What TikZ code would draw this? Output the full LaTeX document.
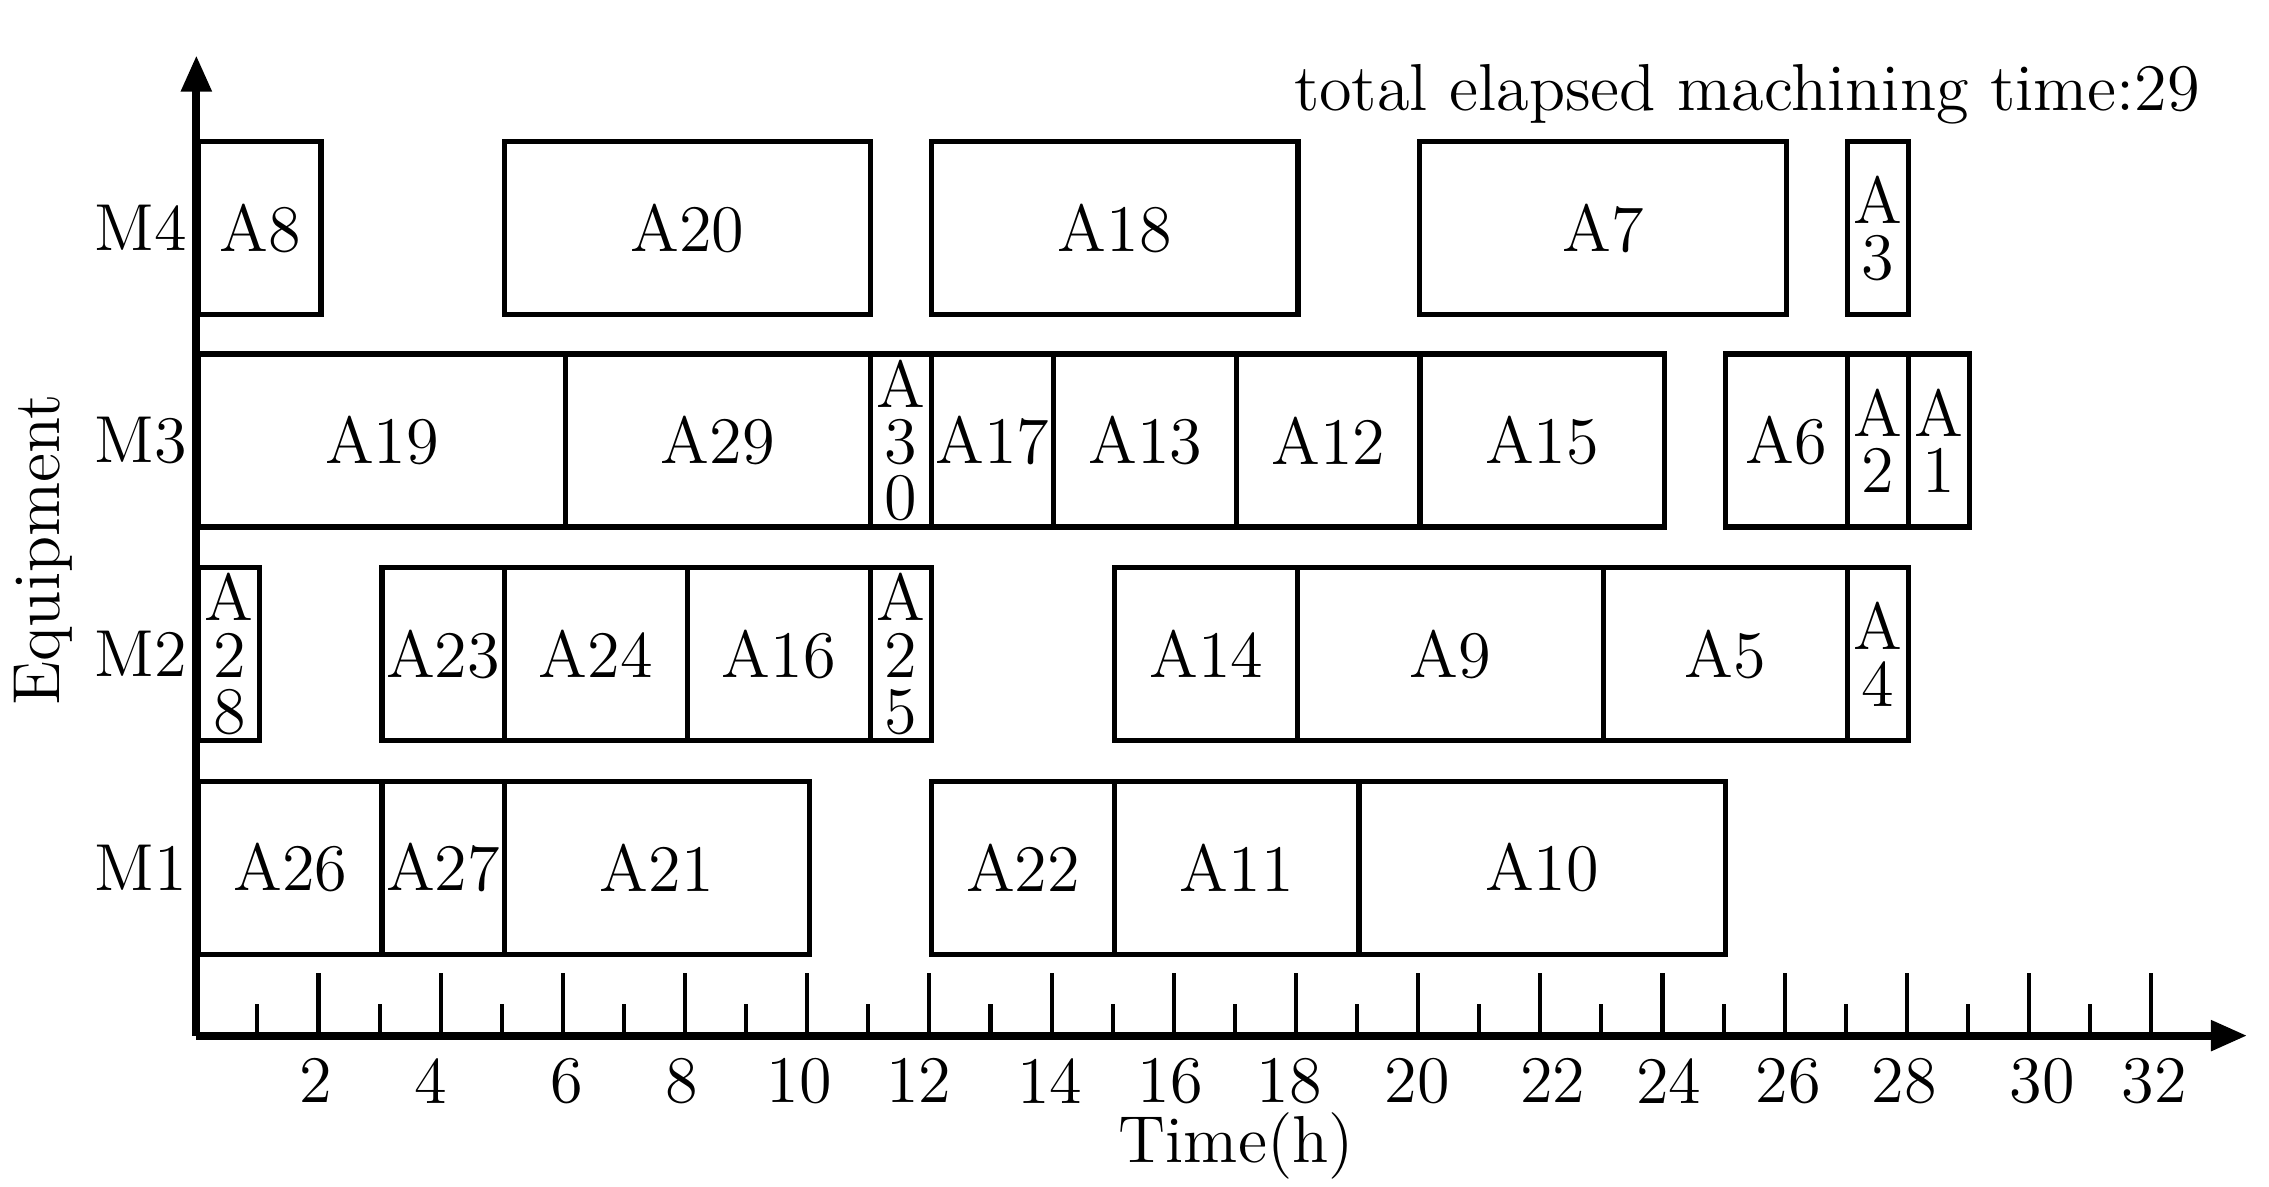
\documentclass[tikz,border=0pt]{standalone}
\usetikzlibrary{arrows.meta}
\tikzset{
  jobbox/.style={draw, line width=1pt, inner sep=0pt, minimum height=1.19cm, anchor=west},
  vtxt/.style={align=center, font=\fontsize{13}{11}\selectfont},
  lbl/.style={font=\fontsize{13}{15}\selectfont},
}
\newcommand\job[5]{% name, t0, t1, ycenter(px), text
  \pgfmathsetmacro\jobw{(#3-#2)*0.42}
  \node[jobbox, minimum width=\jobw cm] (#1) at ({(135+42*#2)*0.01},{-#4*0.01}) {};
  \node[vtxt] at (#1.center) {#5};
}
\begin{document}
\begin{tikzpicture}
\useasboundingbox (0,0) rectangle (15.6,-8.16);
% axes
\coordinate (O) at (1.35,-7.12);
\coordinate (Xend) at (15.45,-7.12);
\coordinate (Yend) at (1.35,-0.38);
\draw[line width=1.6pt, -{Triangle[length=0.25cm,width=0.2cm]}] (O) -- (Xend);
\draw[line width=1.6pt, -{Triangle[length=0.25cm,width=0.2cm]}] (O) -- (Yend);
\foreach \t in {1,...,32}{
  \pgfmathsetmacro\h{ifthenelse(mod(\t,2)==0,0.43,0.22)}
  \draw[line width=0.8pt] ({1.35+0.42*\t},-7.12) -- ++(0,\h);
}
\foreach \v/\x in {2/217,4/296,6/390,8/469,10/550,12/632,14/722,16/805,18/887,20/975,22/1068,24/1148,26/1230,28/1310,30/1405,32/1482}
  \node[lbl] at ({\x*0.01},-7.43) {\v};
\node[lbl] (tl) at (8.5,-7.88) {Time(h)};
\node[lbl, rotate=90] (el) at (0.3,-3.78) {Equipment};
\node[lbl, anchor=east] (title) at (15.25,-0.65) {total elapsed machining time:29};
\foreach \m/\y in {M4/157,M3/303,M2/450,M1/597}
  \node[lbl] at (0.97,{-\y*0.01}) {\m};
% M4
\job{a8}{0}{2}{157}{A8}
\job{a20}{5}{11}{157}{A20}
\job{a18}{12}{18}{157}{A18}
\job{a7}{20}{26}{157}{A7}
\job{a3}{27}{28}{157}{A\\3}
% M3
\job{a19}{0}{6}{303}{A19}
\job{a29}{6}{11}{303}{A29}
\job{a30}{11}{12}{303}{A\\3\\0}
\job{a17}{12}{14}{303}{A17}
\job{a13}{14}{17}{303}{A13}
\job{a12}{17}{20}{303}{A12}
\job{a15}{20}{24}{303}{A15}
\job{a6}{25}{27}{303}{A6}
\job{a2}{27}{28}{303}{A\\2}
\job{a1}{28}{29}{303}{A\\1}
% M2
\job{a28}{0}{1}{450}{A\\2\\8}
\job{a23}{3}{5}{450}{A23}
\job{a24}{5}{8}{450}{A24}
\job{a16}{8}{11}{450}{A16}
\job{a25}{11}{12}{450}{A\\2\\5}
\job{a14}{15}{18}{450}{A14}
\job{a9}{18}{23}{450}{A9}
\job{a5}{23}{27}{450}{A5}
\job{a4}{27}{28}{450}{A\\4}
% M1
\job{a26}{0}{3}{597}{A26}
\job{a27}{3}{5}{597}{A27}
\job{a21}{5}{10}{597}{A21}
\job{a22}{12}{15}{597}{A22}
\job{a11}{15}{19}{597}{A11}
\job{a10}{19}{25}{597}{A10}
\end{tikzpicture}
\end{document}
